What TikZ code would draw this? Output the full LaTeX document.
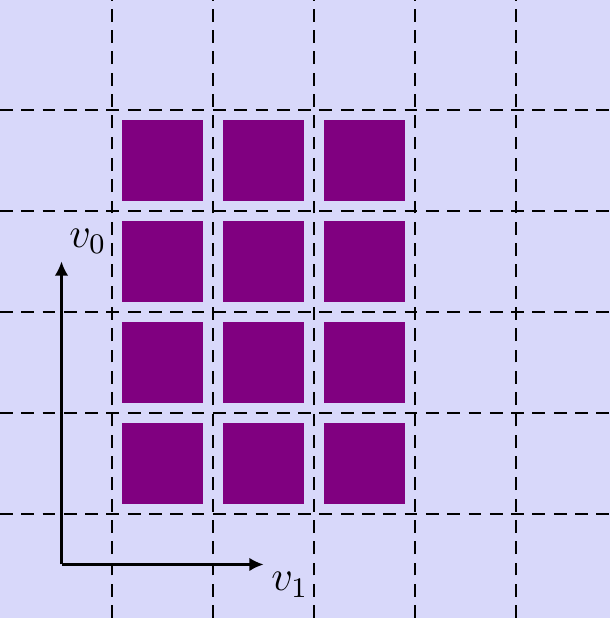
\documentclass[tikz,border=0pt]{standalone}
\usetikzlibrary{arrows.meta}
\definecolor{bgcol}{RGB}{216,216,250}
\definecolor{cellcol}{RGB}{128,0,128}
\begin{document}
\begin{tikzpicture}[
  gridline/.style={black, line width=0.55pt, dash pattern=on 3.6pt off 2.4pt},
  cellbox/.style={fill=cellcol, minimum size=0.8cm, inner sep=0pt, outer sep=0pt},
  axis/.style={line width=0.6pt, -{Latex[length=4pt,width=3.8pt]}},
  lbl/.style={font=\large, inner sep=1pt}
]
\fill[bgcol] (-1.109,-1.030) rectangle (4.931,5.089);
\useasboundingbox (-1.109,-1.030) rectangle (4.931,5.089);
% squares
\foreach \c in {0,1,2}{
  \foreach \r in {0,1,2,3}{
    \node[cellbox] (s-\r-\c) at (\c+0.5,\r+0.5) {};
  }
}
% grid
\foreach \i in {0,...,4}{
  \draw[gridline] (\i,-1.03) -- (\i,5.089);
  \draw[gridline] (-1.109,\i) -- (4.931,\i);
}
% axes
\coordinate (O) at (-0.5,-0.5);
\coordinate (Y) at (-0.5,2.5);
\coordinate (X) at (1.5,-0.5);
\draw[axis] (O) -- (Y);
\draw[axis] (O) -- (X);
\node[lbl, anchor=south west] (l0) at ([xshift=1pt,yshift=1pt]Y) {$v_0$};
\node[lbl, anchor=north west] (l1) at ([xshift=1pt,yshift=-1pt]X) {$v_1$};
\end{tikzpicture}
\end{document}
